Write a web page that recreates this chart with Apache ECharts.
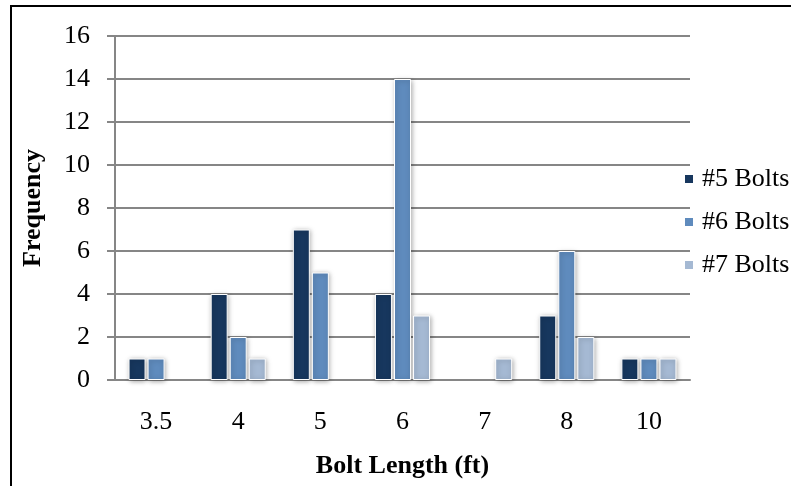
<!DOCTYPE html>
<html>
<head>
<meta charset="utf-8">
<script src="https://cdn.jsdelivr.net/npm/echarts@6/dist/echarts.min.js"></script>
<style>
html,body{margin:0;padding:0;background:#fff;}
#frame{position:absolute;left:10px;top:5px;width:800px;height:500px;border:2px solid #000;box-sizing:border-box;}
#chart{position:absolute;left:0;top:0;width:791px;height:486px;}
</style>
</head>
<body>
<div id="frame"></div>
<div id="chart"></div>
<script>
const categories = ['3.5', '4', '5', '6', '7', '8', '10'];
const bolts5 = [1, 4, 7, 4, 0, 3, 1];
const bolts6 = [1, 2, 5, 14, 0, 6, 1];
const bolts7 = [0, 1, 0, 3, 1, 2, 1];
const seriesNames = ['#5 Bolts', '#6 Bolts', '#7 Bolts'];
const colors = ['#17375e', '#5f8bbd', '#a5b9d3'];

const chart = echarts.init(document.getElementById('chart'), null, {renderer: 'canvas'});
const font = '"Liberation Serif", "Times New Roman", serif';
function mk(name, vals, color) {
  return {
    name: name,
    type: 'bar',
    data: vals.map(v => v === 0 ? '-' : v),
    barWidth: 17,
    barGap: '12%',
    itemStyle: {
      color: color,
      borderColor: '#ffffff',
      borderWidth: 1,
      shadowBlur: 5,
      shadowColor: 'rgba(0,0,0,0.35)',
      shadowOffsetX: 1,
      shadowOffsetY: 1
    }
  };
}
chart.setOption({
  animation: false,
  textStyle: {fontFamily: font},
  grid: {left: 115, right: 101, top: 36, bottom: 106},
  legend: {
    orient: 'vertical',
    left: 678,
    top: 161,
    icon: 'rect',
    itemWidth: 10,
    itemHeight: 10,
    itemGap: 17,
    textStyle: {fontFamily: font, fontSize: 26, color: '#000', padding: [0, 0, 0, 3]},
    data: seriesNames
  },
  xAxis: {
    type: 'category',
    data: categories,
    name: 'Bolt Length (ft)',
    nameLocation: 'middle',
    nameGap: 73,
    nameTextStyle: {fontFamily: font, fontSize: 26, fontWeight: 'bold', color: '#000'},
    axisLine: {lineStyle: {color: '#868686', width: 2}},
    axisTick: {show: false},
    axisLabel: {fontFamily: font, fontSize: 26, color: '#000', margin: 29}
  },
  yAxis: {
    type: 'value',
    min: 0,
    max: 16,
    interval: 2,
    name: 'Frequency',
    nameLocation: 'middle',
    nameGap: 69,
    nameTextStyle: {fontFamily: font, fontSize: 26, fontWeight: 'bold', color: '#000'},
    axisLine: {show: true, lineStyle: {color: '#868686', width: 2}},
    axisTick: {show: true, length: 8, lineStyle: {color: '#868686', width: 2}},
    axisLabel: {fontFamily: font, fontSize: 26, color: '#000', margin: 25},
    splitLine: {lineStyle: {color: '#868686', width: 2}}
  },
  series: [
    mk(seriesNames[0], bolts5, colors[0]),
    mk(seriesNames[1], bolts6, colors[1]),
    mk(seriesNames[2], bolts7, colors[2])
  ]
});
</script>
</body>
</html>
